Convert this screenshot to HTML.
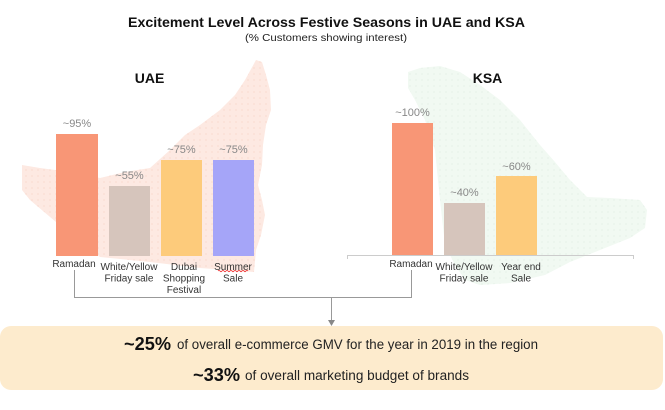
<!DOCTYPE html>
<html><head><meta charset="utf-8"><style>
html,body{margin:0;padding:0;background:#fff;}
svg{display:block;font-family:"Liberation Sans",sans-serif;}
</style></head><body>
<svg width="665" height="410" viewBox="0 0 665 410" xmlns="http://www.w3.org/2000/svg">
<defs>
<pattern id="dp" width="6" height="6" patternUnits="userSpaceOnUse"><circle cx="2" cy="2" r="0.6" fill="#f5d0c3"/></pattern>
<pattern id="dg" width="6" height="6" patternUnits="userSpaceOnUse"><circle cx="2" cy="2" r="0.6" fill="#dcecdf"/></pattern>
</defs>
<!-- UAE map -->
<polygon points="256,60 262,62 266,75 270,90 271,110 266,125 263,145 262,165 258,185 262,200 265,215 261,235 256,250 254,272 200,268 150,262 100,257 56,222 30,200 22,190 22,165 40,168 70,172 100,178 125,172 150,168 170,150 185,135 200,125 220,110 235,95 245,80" fill="#fde9e2"/>
<polygon points="256,60 262,62 266,75 270,90 271,110 266,125 263,145 262,165 258,185 262,200 265,215 261,235 256,250 254,272 200,268 150,262 100,257 56,222 30,200 22,190 22,165 40,168 70,172 100,178 125,172 150,168 170,150 185,135 200,125 220,110 235,95 245,80" fill="url(#dp)"/>
<!-- KSA map -->
<polygon points="408,72 420,68 440,66 460,72 480,85 500,100 520,120 540,145 555,162 570,180 587,197 610,198 640,200 647,210 645,228 630,238 600,250 570,262 545,275 510,283 480,285 465,280 455,265 445,245 440,200 435,150 425,120 415,100 408,88" fill="#f1f9f2"/>
<polygon points="408,72 420,68 440,66 460,72 480,85 500,100 520,120 540,145 555,162 570,180 587,197 610,198 640,200 647,210 645,228 630,238 600,250 570,262 545,275 510,283 480,285 465,280 455,265 445,245 440,200 435,150 425,120 415,100 408,88" fill="url(#dg)"/>

<!-- Titles -->
<text x="326.5" y="27" text-anchor="middle" font-size="14" font-weight="bold" fill="#111" textLength="397" lengthAdjust="spacingAndGlyphs">Excitement Level Across Festive Seasons in UAE and KSA</text>
<text x="326" y="41" text-anchor="middle" font-size="10" fill="#222" textLength="162" lengthAdjust="spacingAndGlyphs">(% Customers showing interest)</text>

<text x="149.5" y="83" text-anchor="middle" font-size="14" font-weight="bold" fill="#111">UAE</text>
<text x="487.5" y="83" text-anchor="middle" font-size="14" font-weight="bold" fill="#111">KSA</text>

<!-- UAE bars -->
<rect x="56" y="134" width="42" height="122" fill="#f89676"/>
<rect x="109" y="186" width="41" height="70" fill="#d6c5bc"/>
<rect x="161" y="160" width="41" height="96" fill="#fdcb7b"/>
<rect x="213" y="160" width="41" height="96" fill="#a5a5f8"/>
<g font-size="11" fill="#888" text-anchor="middle">
<text x="77" y="127">~95%</text>
<text x="129.5" y="179">~55%</text>
<text x="181.5" y="153">~75%</text>
<text x="233.5" y="153">~75%</text>
</g>

<!-- KSA axis -->
<path d="M347.5,259 V255.5 H633.5 V259" fill="none" stroke="#ccc" stroke-width="1"/>
<!-- KSA bars -->
<rect x="392" y="123" width="41" height="132" fill="#f89676"/>
<rect x="444" y="203" width="41" height="52" fill="#d6c5bc"/>
<rect x="496" y="176" width="41" height="79" fill="#fdcb7b"/>
<g font-size="11" fill="#888" text-anchor="middle">
<text x="412.5" y="116">~100%</text>
<text x="464.5" y="196">~40%</text>
<text x="516.5" y="170">~60%</text>
</g>

<!-- Category labels -->
<g font-size="10" fill="#333" text-anchor="middle">
<text x="74" y="267">Ramadan</text>
<text x="129" y="270">White/Yellow</text>
<text x="129" y="281.5">Friday sale</text>
<text x="184" y="270">Dubai</text>
<text x="184" y="281.5">Shopping</text>
<text x="184" y="293">Festival</text>
<text x="233" y="270">Summer</text>
<text x="233" y="281.5">Sale</text>
<text x="411" y="267">Ramadan</text>
<text x="464" y="270">White/Yellow</text>
<text x="464" y="281.5">Friday sale</text>
<text x="521" y="270">Year end</text>
<text x="521" y="281.5">Sale</text>
</g>
<path d="M218,271 q1,-1.5 2,0 t2,0 t2,0 t2,0 t2,0 t2,0 t2,0 t2,0 t2,0 t2,0 t2,0 t2,0 t2,0 t2,0 t2,0" fill="none" stroke="#e33" stroke-width="0.8"/>

<!-- Connector -->
<path d="M74.5,270 V297.5 H411.5 V270" fill="none" stroke="#999" stroke-width="1"/>
<line x1="331.5" y1="297.5" x2="331.5" y2="321" stroke="#999" stroke-width="1"/>
<polygon points="328,320 335,320 331.5,326" fill="#888"/>

<!-- Bottom box -->
<rect x="0" y="326" width="663" height="64" rx="11" ry="11" fill="#fdebcd"/>
<text x="124" y="350" font-size="18.5" font-weight="bold" fill="#111" textLength="47" lengthAdjust="spacingAndGlyphs">~25%</text>
<text x="177" y="349" font-size="13.5" fill="#222" textLength="361" lengthAdjust="spacingAndGlyphs">of overall e-commerce GMV for the year in 2019 in the region</text>
<text x="193" y="381" font-size="18.5" font-weight="bold" fill="#111" textLength="47" lengthAdjust="spacingAndGlyphs">~33%</text>
<text x="245" y="380" font-size="13.5" fill="#222" textLength="224" lengthAdjust="spacingAndGlyphs">of overall marketing budget of brands</text>
</svg>
</body></html>
